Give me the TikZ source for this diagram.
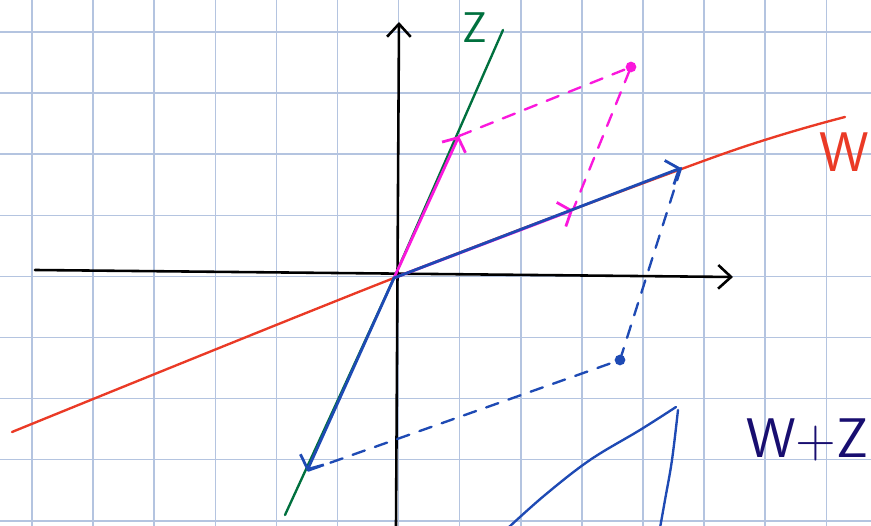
\documentclass[tikz,border=0pt]{standalone}
\usetikzlibrary{arrows.meta}
\definecolor{gridblue}{RGB}{180,196,224}
\definecolor{wred}{RGB}{234,58,38}
\definecolor{zgreen}{RGB}{0,112,62}
\definecolor{vmag}{RGB}{250,24,220}
\definecolor{sumblue}{RGB}{30,74,180}
\definecolor{navy}{RGB}{24,14,112}

\begin{document}
\begin{tikzpicture}[x=0.016366cm, y=-0.016366cm,
    gridline/.style={gridblue, line width=0.7pt},
    axis/.style={black, line width=1.2pt, line cap=round,
      -{Straight Barb[length=6pt,width=11pt]}},
    line/.style={line width=1.1pt, line cap=round, line join=round},
    vec/.style={line width=1.3pt, line cap=round,
      -{Straight Barb[length=5pt,width=12pt]}},
    dashvec/.style={line width=1.1pt, line cap=round, dash pattern=on 6pt off 5pt},
    dot/.style={circle, inner sep=0pt, minimum size=5pt},
    lbl/.style={font=\sffamily\fontsize{26}{26}\selectfont, inner sep=0pt}
  ]
  \useasboundingbox (0,0) rectangle (871,526);
  \clip (0,0) rectangle (871,526);

  % grid
  \foreach \i in {0,...,13}
    \draw[gridline] ({32+61.1*\i},0) -- ({32+61.1*\i},526);
  \foreach \j in {0,...,8}
    \draw[gridline] (0,{32+61.1*\j}) -- (871,{32+61.1*\j});

  % axes
  \coordinate (O) at (394,278);
  \coordinate (xl) at (35,270);
  \coordinate (xr) at (733,277);
  \coordinate (yb) at (396,526);
  \coordinate (yt) at (399,22);
  \draw[axis] (xl) -- (xr);
  \draw[axis] (yb) -- (yt);

  % lines W and Z
  \coordinate (wl) at (12,432);
  \coordinate (wk) at (720,155);
  \coordinate (wr) at (845,117);
  \coordinate (zb) at (285,515);
  \coordinate (zt) at (503,30);
  \draw[line, wred] plot[smooth, tension=0.5] coordinates {(wl) (O) (wk) (wr)};
  \draw[line, zgreen] (zb) -- (O) -- (zt);
  \node[lbl, text=wred, anchor=east] (wlabel) at (869,152) {W};
  \node[lbl, text=zgreen, font=\sffamily\fontsize{20}{20}\selectfont] (zlabel) at (475,28) {Z};

  % magenta vectors
  \coordinate (mz) at (459,136);
  \coordinate (mw) at (573,210);
  \node[dot, fill=vmag] (msum) at (631,67) {};
  \draw[vec, vmag] (O) -- (mz);
  \draw[vec, vmag] (O) -- (mw);
  \draw[dashvec, vmag] (mz) -- (msum.center) -- (mw);

  % blue vectors
  \coordinate (bw) at (681,168);
  \coordinate (bz) at (307,471);
  \node[dot, fill=sumblue] (bsum) at (620,360) {};
  \draw[vec, sumblue] (O) -- (bw);
  \draw[vec, sumblue] (O) -- (bz);
  \draw[dashvec, sumblue] (bw) -- (bsum.center) -- (bz);

  % sum curve
  \draw[line, sumblue] plot[smooth, tension=0.6] coordinates
    {(508,528) (545,495) (590,460) (640,430) (676,407)};
  \draw[line, sumblue] plot[smooth, tension=0.6] coordinates
    {(678,410) (672,460) (665,500) (660,528)};
  \node[lbl, text=navy, anchor=east] (sumlabel) at (869,440) {W+Z};
\end{tikzpicture}
\end{document}
